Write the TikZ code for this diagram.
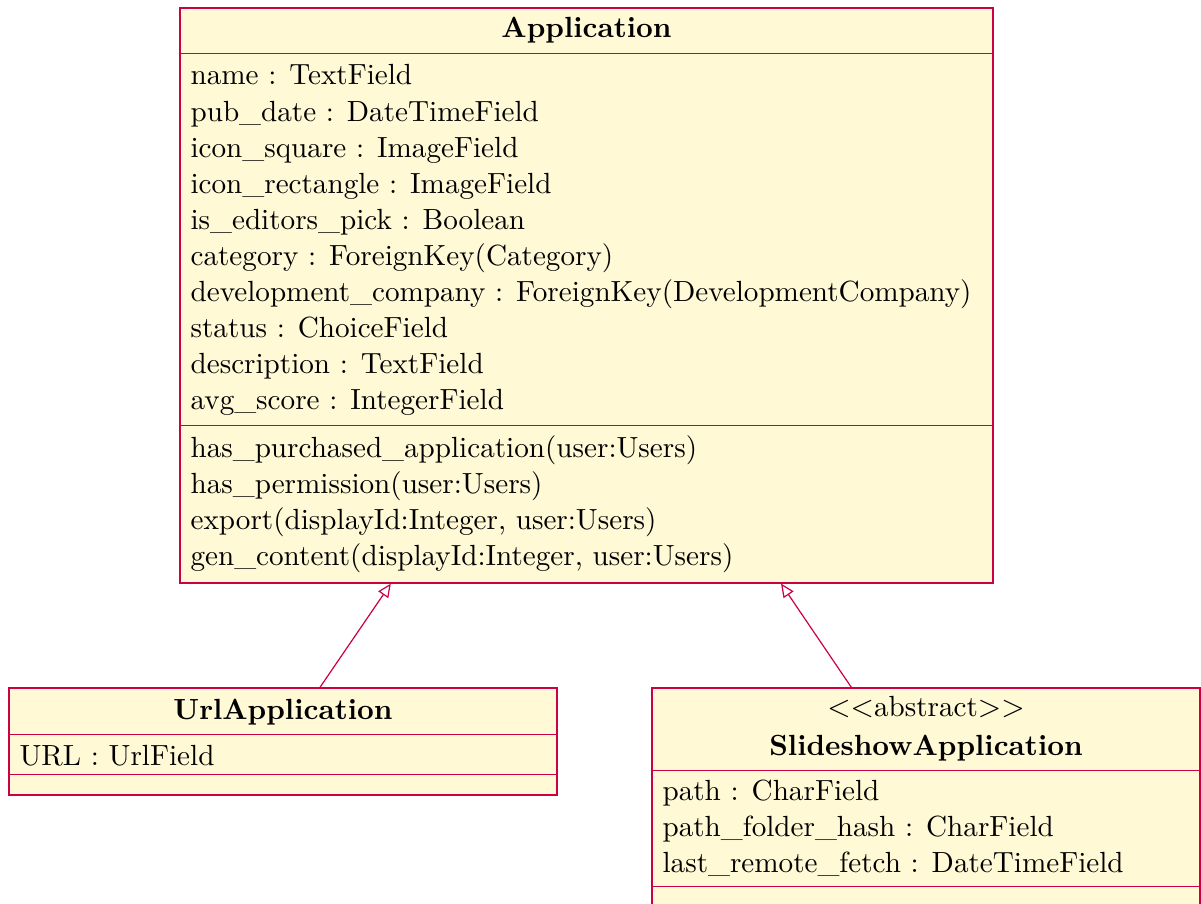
\documentclass[tikz,border=0pt]{standalone}
\usetikzlibrary{arrows.meta}
\definecolor{umlline}{RGB}{204,0,68}
\definecolor{umlfill}{RGB}{255,249,214}
\newcommand{\umlfont}{\fontsize{9.72pt}{12pt}\selectfont}
\tikzset{
  umlbox/.style={draw=umlline, fill=umlfill, rectangle, inner sep=0pt, line width=0.4pt},
  sepline/.style={draw=umlline, line width=0.4pt},
  member/.style={anchor=base west, inner sep=0pt, font=\umlfont},
  classname/.style={anchor=base, inner sep=0pt, font=\umlfont\bfseries},
  stereo/.style={anchor=base, inner sep=0pt, font=\umlfont},
  inherit/.style={draw=umlline, line width=0.4pt, -{Triangle[open, length=4.5pt, width=4pt]}},
}
\begin{document}
\begin{tikzpicture}[x=0.333333pt, y=-0.333333pt]
\clip (0,0) rectangle (1201,903);

% class boxes
\node[umlbox, minimum width=271pt, minimum height=191.667pt] (app) at (586.5,295.5) {};
\node[umlbox, minimum width=182.667pt, minimum height=35.667pt] (url) at (283,741.5) {};
\node[umlbox, minimum width=182.667pt, minimum height=73pt] (slide) at (926,797.5) {};

% compartment separators
\draw[sepline] ([yshift=-15.333pt]app.north west) -- ([yshift=-15.333pt]app.north east);
\draw[sepline] ([yshift=-139.333pt]app.north west) -- ([yshift=-139.333pt]app.north east);
\draw[sepline] ([yshift=-15.667pt]url.north west) -- ([yshift=-15.667pt]url.north east);
\draw[sepline] ([yshift=-29pt]url.north west) -- ([yshift=-29pt]url.north east);
\draw[sepline] ([yshift=-27.667pt]slide.north west) -- ([yshift=-27.667pt]slide.north east);
\draw[sepline] ([yshift=-66.333pt]slide.north west) -- ([yshift=-66.333pt]slide.north east);

% Application
\node[classname] (appT) at (586.5,38) {Application};
\node[member] (a1) at (190,85) {name : TextField};
\node[member] (a2) at (190,121) {pub\_date : DateTimeField};
\node[member] (a3) at (190,157) {icon\_square : ImageField};
\node[member] (a4) at (190,193) {icon\_rectangle : ImageField};
\node[member] (a5) at (190,229) {is\_editors\_pick : Boolean};
\node[member] (a6) at (190,265) {category : ForeignKey(Category)};
\node[member] (a7) at (190,301) {development\_company : ForeignKey(DevelopmentCompany)};
\node[member] (a8) at (190,337) {status : ChoiceField};
\node[member] (a9) at (190,373) {description : TextField};
\node[member] (a10) at (190,409) {avg\_score : IntegerField};
\node[member] (m1) at (190,457) {has\_purchased\_application(user:Users)};
\node[member] (m2) at (190,493) {has\_permission(user:Users)};
\node[member] (m3) at (190,529) {export(displayId:Integer, user:Users)};
\node[member] (m4) at (190,565) {gen\_content(displayId:Integer, user:Users)};

% UrlApplication
\node[classname] (urlT) at (283,719) {UrlApplication};
\node[member] (u1) at (19,765) {URL : UrlField};

% SlideshowApplication
\node[stereo] (slideS) at (926,716) {$<<$abstract$>>$};
\node[classname] (slideT) at (926,755) {SlideshowApplication};
\node[member] (s1) at (662,800) {path : CharField};
\node[member] (s2) at (662,836) {path\_folder\_hash : CharField};
\node[member] (s3) at (662,872) {last\_remote\_fetch : DateTimeField};

% generalisation
\draw[inherit] (url) -- (app);
\draw[inherit] (slide) -- (app);
\end{tikzpicture}
\end{document}
